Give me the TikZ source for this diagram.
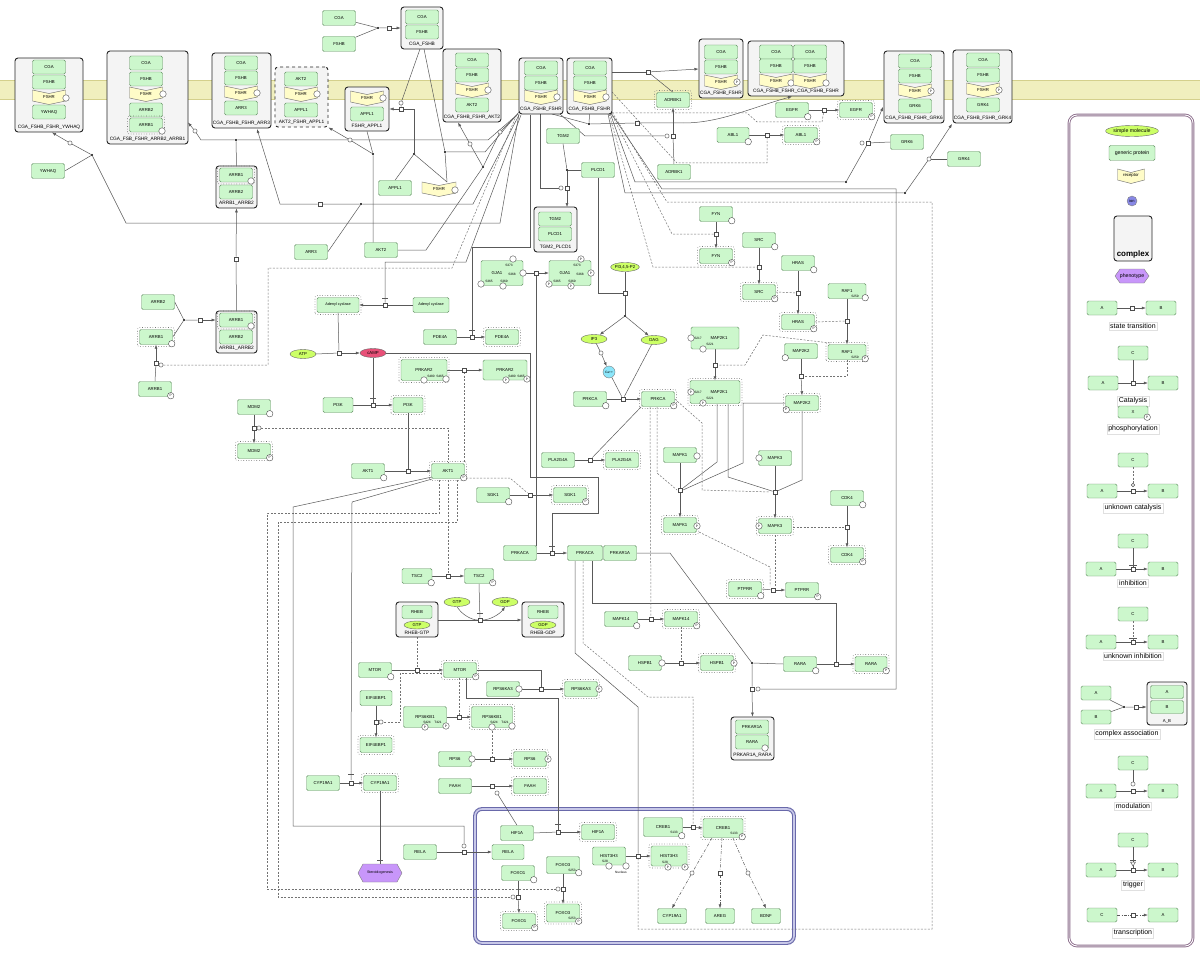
\documentclass[tikz,border=0pt]{standalone}
\usepackage{fontspec}
\setmainfont{Liberation Sans}
\usetikzlibrary{arrows.meta,shapes.geometric,fit,calc}
\pgfdeclarelayer{back}
\pgfdeclarelayer{bg}
\pgfsetlayers{back,bg,main}
\definecolor{pg}{RGB}{204,247,204}
\definecolor{pb}{RGB}{96,140,96}
\definecolor{rcol}{RGB}{255,252,200}
\definecolor{memb}{RGB}{240,239,190}
\definecolor{membd}{RGB}{212,208,140}
\definecolor{cg}{RGB}{244,244,244}
\definecolor{smc}{RGB}{204,255,102}
\definecolor{camp}{RGB}{232,80,120}
\definecolor{ionc}{RGB}{140,230,250}
\definecolor{ionl}{RGB}{136,136,230}
\definecolor{phen}{RGB}{200,150,250}
\definecolor{nuc}{RGB}{105,105,170}
\definecolor{nucl}{RGB}{200,200,232}
\definecolor{legc}{RGB}{140,110,140}
\newcommand{\Fs}{\fontsize{4.3}{5}\selectfont}
\newcommand{\Fc}{\fontsize{4.8}{5.5}\selectfont}
\newcommand{\Fss}{\fontsize{3.2}{3.6}\selectfont}
\newcommand{\Fl}{\fontsize{7}{8}\selectfont}
\tikzset{
 prot/.style={draw=pb, fill=pg, rounded corners=1.5pt, minimum width=33pt, minimum height=15pt, inner sep=0pt, font=\Fs, line width=0.45pt},
 cp/.style={minimum height=14pt},
 lp/.style={minimum width=30pt, minimum height=14pt},
 actb/.style={draw=black!55, dotted, line width=0.6pt, rounded corners=2pt},
 cplx/.style={draw=black!85, fill=cg, rounded corners=3pt, line width=0.9pt, inner sep=0pt},
 smol/.style={ellipse, draw=black!60, fill=smc, minimum width=26pt, minimum height=9pt, inner sep=0pt, font=\Fs, line width=0.4pt},
 sqn/.style={draw=black!70, fill=white, minimum size=4.5pt, inner sep=0pt, line width=0.4pt},
 dotn/.style={circle, fill=black, minimum size=2.4pt, inner sep=0pt},
 ocn/.style={circle, draw=black!70, fill=white, minimum size=4.2pt, inner sep=0pt, line width=0.4pt},
 modn/.style={circle, draw=black!70, fill=white, minimum size=6.5pt, inner sep=0pt, font=\Fss, line width=0.4pt},
 ln/.style={draw=black!65, line width=0.5pt},
 dl/.style={draw=black!55, line width=0.5pt, dash pattern=on 2pt off 1.5pt},
 ddl/.style={draw=black!65, line width=0.5pt, dash pattern=on 3pt off 1.5pt on 0.6pt off 1.5pt},
 ar/.style={-{Latex[length=4pt,width=3pt]}},
 lab/.style={font=\Fs, inner sep=0pt},
 clab/.style={font=\Fc, inner sep=0pt},
 leglab/.style={font=\Fl, draw=black!12, fill=white, inner sep=1.5pt},
}
\newcommand{\Gp}[4][]{\node[prot,#1] (#2) at (#3) {#4};}
\newcommand{\Gpa}[4][]{\node[prot,#1] (#2) at (#3) {#4};\draw[actb] ([xshift=-1.8pt,yshift=-1.8pt]#2.south west) rectangle ([xshift=1.8pt,yshift=1.8pt]#2.north east);}
\newcommand{\Rc}[5][33]{\path[draw=black!55,fill=rcol,line width=0.45pt] ({#3-#1/2},{#4-7}) -- (#3,{#4-3.5}) -- ({#3+#1/2},{#4-7}) -- ({#3+#1/2},{#4+4}) -- (#3,{#4+7.5}) -- ({#3-#1/2},{#4+4}) -- cycle; \node[lab,minimum width=#1pt,minimum height=14pt] (#2) at (#3,#4) {#5};}
\newcommand{\Cx}[7][]{\node[cplx,fit={(#3,#4) (#5,#6)},#1] (#2) {}; \node[clab] at ({(#3+#5)/2},{#6-4.5}) {#7};}
\newcommand{\Mr}[2]{\node[modn] at ($(#1.south east)+(-1,-1)$) {#2};}
\newcommand{\Ml}[2]{\node[modn] at ($(#1.south west)+(1,-1)$) {#2};}
\newcommand{\Mat}[2]{\node[modn] at (#1) {#2};}
\newcommand{\Trg}[2]{\draw[ln] ({#1-3},#2) -- ({#1+3},#2);}
\begin{document}
\begin{tikzpicture}[x=1pt,y=-1pt]
\useasboundingbox (0,0) rectangle (1200,955);
\begin{pgfonlayer}{back}
\fill[white] (0,0) rectangle (1200,955);
\fill[memb] (0,80) rectangle (1200,99);
\draw[membd, line width=0.6pt] (0,80) -- (1200,80) (0,99) -- (1200,99);
\draw[draw=nuc, double=nucl, double distance=1.6pt, line width=1.1pt, rounded corners=7pt] (475,809) rectangle (794,943);
\end{pgfonlayer}

% ---------- complexes ----------
\Cx{cYW}{15}{58}{83}{132}{CGA\_FSHB\_FSHR\_YWHAQ}
\Gp[cp]{c1a}{49,67}{CGA} \Gp[cp]{c1b}{49,82}{FSHB} \Rc{c1c}{49}{97}{FSHR} \Mat{66,98}{} \Gp[cp]{c1d}{49,112}{YWHAQ}

\Cx{cAR}{107}{51}{188}{144}{CGA\_FSB\_FSHR\_ARRB2\_ARRB1}
\Gp[cp]{c2a}{146,63}{CGA} \Gp[cp]{c2b}{146,79}{FSHB} \Rc{c2c}{146}{94}{FSHR} \Mat{163,94}{} \Gp[cp]{c2d}{146,110}{ARRB2} \Gpa[cp]{c2e}{146,125}{ARRB1} \Mat{162,131}{}

\Cx{cA3}{212}{53}{271}{128}{CGA\_FSHB\_FSHR\_ARR3}
\Gp[cp]{c3a}{241,63}{CGA} \Gp[cp]{c3b}{241,78}{FSHB} \Rc{c3c}{241}{93}{FSHR} \Mat{257,93}{} \Gp[cp]{c3d}{241,108}{ARR3}

\Cx[dashed]{cAA}{275}{67}{328}{127}{AKT2\_FSHR\_APPL1}
\Gp[cp]{c4a}{301,79}{AKT2} \Rc{c4c}{301}{94}{FSHR} \Mat{317,94}{} \Gp[cp]{c4d}{301,110}{APPL1}

\Cx{cFA}{345}{87}{389}{131}{FSHR\_APPL1}
\Rc{c5c}{367}{98}{FSHR} \Mat{383,98}{} \Gp[cp]{c5d}{367,114}{APPL1}

\Cx{cCF}{401}{7}{443}{49}{CGA\_FSHB}
\Gp[cp]{c6a}{422,17}{CGA} \Gp[cp]{c6b}{422,32}{FSHB}

\Cx{cAK}{443}{49}{501}{122}{CGA\_FSHB\_FSHR\_AKT2}
\Gp[cp]{c7a}{472,60}{CGA} \Gp[cp]{c7b}{472,75}{FSHB} \Rc{c7c}{472}{90}{FSHR} \Mat{488,90}{} \Gp[cp]{c7d}{472,105}{AKT2}

\Cx{cF1}{519}{58}{563}{114}{CGA\_FSHB\_FSHR}
\Gp[cp]{c8a}{541,68}{CGA} \Gp[cp]{c8b}{541,83}{FSHB} \Rc{c8c}{541}{97}{FSHR} \Mat{557,97}{}

\Cx{cF2}{567}{58}{612}{114}{CGA\_FSHB\_FSHR}
\Gp[cp]{c9a}{590,68}{CGA} \Gp[cp]{c9b}{590,83}{FSHB} \Rc{c9c}{590}{97}{FSHR} \Mat{606,97}{}

\Cx{cF3}{699}{39}{743}{98}{CGA\_FSHB\_FSHR}
\Gp[cp]{c10a}{721,52}{CGA} \Gp[cp]{c10b}{721,67}{FSHB} \Rc{c10c}{721}{82}{FSHR} \Mat{737,82}{P}

\Cx{cDim}{748}{41}{844}{96}{CGA\_FSHB\_FSHR\_CGA\_FSHB\_FSHR}
\Gp[cp]{c11a}{776,52}{CGA} \Gp[cp]{c11b}{776,66}{FSHB} \Rc{c11c}{776}{81}{FSHR} \Mat{791,83}{}
\Gp[cp]{c11d}{810,52}{CGA} \Gp[cp]{c11e}{810,66}{FSHB} \Rc{c11f}{810}{81}{FSHR} \Mat{826,83}{}

\Cx{cG6}{884}{51}{944}{123}{CGA\_FSHB\_FSHR\_GRK6}
\Gp[cp]{c12a}{915,61}{CGA} \Gp[cp]{c12b}{915,76}{FSHB} \Rc{c12c}{915}{91}{FSHR} \Mat{931,91}{P} \Gp[cp]{c12d}{915,106}{GRK6}

\Cx{cG4}{953}{50}{1012}{123}{CGA\_FSHB\_FSHR\_GRK4}
\Gp[cp]{c13a}{983,60}{CGA} \Gp[cp]{c13b}{983,75}{FSHB} \Rc{c13c}{983}{90}{FSHR} \Mat{999,90}{P} \Gp[cp]{c13d}{983,105}{GRK4}

\Cx{cAB1}{216}{166}{257}{208}{ARRB1\_ARRB2}
\Gpa[cp]{c14a}{236,175}{ARRB1} \Mat{251,181}{} \Gp[cp]{c14b}{236,192}{ARRB2}

\Cx{cAB2}{216}{311}{257}{353}{ARRB1\_ARRB2}
\Gpa[cp]{c15a}{236,320}{ARRB1} \Mat{251,326}{} \Gp[cp]{c15b}{236,337}{ARRB2}

\Cx{cTP}{534}{207}{577}{252}{TGM2\_PLCD1}
\Gp[cp]{c16a}{555,219}{TGM2} \Gp[cp]{c16b}{555,234}{PLCD1}

\Cx{cRG}{396}{602}{438}{637}{RHEB-GTP}
\Gp[minimum width=30pt,minimum height=13pt]{c17a}{417,612}{RHEB} \node[smol,minimum height=8pt] at (417,625) {GTP};

\Cx{cRD}{522}{602}{564}{637}{RHEB-GDP}
\Gp[minimum width=30pt,minimum height=13pt]{c18a}{543,612}{RHEB} \node[smol,minimum height=8pt] at (543,625) {GDP};

\Cx{cPR}{731}{717}{774}{760}{PRKAR1A\_RARA}
\Gp[cp]{c19a}{752,727}{PRKAR1A} \Gp[cp]{c19b}{752,742}{RARA} \Mat{765,748}{}

% ---------- free nodes ----------
\Gp{CGA0}{339,18}{CGA} \Gp{FSHB0}{339,44}{FSHB}
\Gp{YWHAQ}{48,171}{YWHAQ}
\Gp{ARR3}{311,252}{ARR3}
\Gp{AKT2}{381,250}{AKT2}
\Gp{APPL1}{395,188}{APPL1}
\Rc[34]{FSHRf}{439}{189}{FSHR} \Mat{455,190}{}
\Gp{TGM2}{563,136}{TGM2}
\Gp{PLCD1}{598,170}{PLCD1}
\Gp[minimum width=42pt,minimum height=25pt]{GJA1a}{502,273}{}
\node[lab] at (497,273) {GJA1}; \node[font=\Fss] at (512,274) {S368}; \node[font=\Fss] at (509,265) {S373}; \node[font=\Fss] at (489,281) {S365}; \node[font=\Fss] at (504,281) {S369};
\Mat{513,259}{} \Mat{523,273}{} \Mat{481,284}{} \Mat{503,286}{}
\Gp[minimum width=42pt,minimum height=25pt]{GJA1b}{570,273}{}
\node[lab] at (565,273) {GJA1}; \node[font=\Fss] at (580,274) {S368}; \node[font=\Fss] at (577,265) {S373}; \node[font=\Fss] at (557,281) {S365}; \node[font=\Fss] at (572,281) {S369};
\Mat{581,259}{P} \Mat{591,273}{P} \Mat{549,284}{P} \Mat{571,286}{P}
\Gpa[minimum width=42pt,font=\fontsize{3.8}{4}\selectfont]{AC1}{338,305}{Adenyl cyclase}
\Gp[minimum width=36pt,font=\fontsize{3.8}{4}\selectfont]{AC2}{431,305}{Adenyl cyclase}
\Gpa{ADRBK1t}{673,100}{ADRBK1} \Gp{ADRBK1b}{674,172}{ADRBK1}
\Gp{EGFR}{792,110}{EGFR} \Mr{EGFR}{} \Gpa{EGFRp}{856,110}{EGFR} \Mr{EGFRp}{P}
\Gp[minimum width=32pt]{ABL1}{733,135}{ABL1} \Mr{ABL1}{} \Gpa{ABL1p}{801,135}{ABL1} \Mr{ABL1p}{P}
\Gp{GRK6}{907,142}{GRK6} \Gp{GRK4}{964,159}{GRK4}
\Gp{FYN}{716,214}{FYN} \Mr{FYN}{} \Gpa{FYNp}{716,256}{FYN} \Mr{FYNp}{P}
\Gp{SRC}{759,240}{SRC} \Mr{SRC}{} \Gpa{SRCp}{759,292}{SRC} \Mr{SRCp}{P}
\Gp{HRAS}{798,263}{HRAS} \Mr{HRAS}{} \Gpa{HRASp}{798,322}{HRAS} \Mr{HRASp}{P}
\Gp[minimum width=38pt]{RAF1}{847,291}{RAF1} \Mr{RAF1}{} \node[font=\Fss] at (855,296) {S259};
\Gpa[minimum width=38pt]{RAF1p}{847,352}{RAF1} \Mr{RAF1p}{P} \node[font=\Fss] at (855,357) {S259};
\Gp{MAP2K2}{801,351}{MAP2K2} \Ml{MAP2K2}{} \Gpa{MAP2K2p}{802,403}{MAP2K2} \Ml{MAP2K2p}{P}
\Gp[minimum width=48pt,minimum height=22pt]{MAP2K1}{715,338}{\hspace{8pt}MAP2K1} \Mat{691,338}{} \Mat{703,349}{}
\node[font=\Fss] at (698,338) {S217}; \node[font=\Fss] at (710,344) {S221};
\Gpa[minimum width=50pt,minimum height=23pt]{MAP2K1p}{715,392}{\hspace{8pt}MAP2K1} \Mat{691,392}{P} \Mat{703,403}{P}
\node[font=\Fss] at (698,392) {S217}; \node[font=\Fss] at (710,398) {S221};
\node[smol,minimum width=27pt] (PIP2) at (625,267) {PI3,4,5-P2};
\node[smol] (IP3) at (594,339) {IP3};
\node[smol] (DAG) at (654,340) {DAG};
\node[circle, fill=ionc, draw=black!50, minimum size=12pt, inner sep=0pt, font=\Fss] (Ca) at (609,372) {Ca++};
\Gp{PRKCA}{590,399}{PRKCA} \Mr{PRKCA}{} \Gpa{PRKCAp}{658,399}{PRKCA} \Mr{PRKCAp}{P}
\Gp{PLA2G4A}{558,460}{PLA2G4A} \Gpa{PLA2G4Ap}{622,460}{PLA2G4A}
\Gp{MAPK1}{680,455}{MAPK1} \Mat{697,456}{} \Gpa{MAPK1p}{680,525}{MAPK1} \Mat{697,526}{P}
\Gp{MAPK3}{775,458}{MAPK3} \Mat{759,458}{} \Gpa{MAPK3p}{775,526}{MAPK3} \Mat{759,526}{P}
\Gp{CDK4}{847,498}{CDK4} \Mr{CDK4}{} \Gpa{CDK4p}{847,555}{CDK4} \Mr{CDK4p}{P}
\Gpa{PTPRR}{745,589}{PTPRR} \Mr{PTPRR}{} \Gp{PTPRRp}{802,590}{PTPRR} \Mr{PTPRRp}{P}
\Gp{PRKAR1A}{620,553}{PRKAR1A}
\Gp{MAPK14}{621,619}{MAPK14} \Mr{MAPK14}{} \Gpa{MAPK14p}{681,619}{MAPK14} \Mr{MAPK14p}{P}
\Gp{ARRB2}{158,302}{ARRB2}
\Gpa{ARRB1d}{156,337}{ARRB1} \Mr{ARRB1d}{}
\Gp{ARRB1p}{155,389}{ARRB1} \Mr{ARRB1p}{P}
\node[smol] (ATP) at (303,354) {ATP};
\node[smol, fill=camp] (cAMP) at (373,353) {cAMP};
\Gp{MDM2}{254,407}{MDM2} \Mr{MDM2}{} \Gpa{MDM2p}{254,451}{MDM2} \Mr{MDM2p}{P}
\Gp{PDE4A}{440,337}{PDE4A} \Gpa{PDE4Ap}{502,337}{PDE4A}
\Gpa[minimum width=46pt,minimum height=21pt]{PRKAR2a}{424,370}{PRKAR2} \Mat{424,380}{} \Mat{446,379}{}
\node[font=\Fss] at (431,376) {S480}; \node[font=\Fss] at (440,376) {S465};
\Gp[minimum width=44pt,minimum height=20pt]{PRKAR2b}{505,370}{PRKAR2} \Mat{506,380}{P} \Mat{527,379}{P}
\node[font=\Fss] at (512,376) {S480}; \node[font=\Fss] at (521,376) {S465};
\Gp[minimum width=30pt]{PI3K}{338,405}{PI3K} \Gpa[minimum width=30pt]{PI3Kp}{408,405}{PI3K}
\Gp{AKT1}{368,471}{AKT1} \Mr{AKT1}{} \Gpa{AKT1p}{448,471}{AKT1} \Mr{AKT1p}{P}
\Gp{SGK1}{493,495}{SGK1} \Mr{SGK1}{} \Gpa{SGK1p}{570,495}{SGK1} \Mr{SGK1p}{P}
\Gp{PRKACA}{520,553}{PRKACA} \Gp[minimum width=35pt]{PRKACAp}{585,553}{PRKACA}
\Gp[minimum width=30pt]{TSC2}{417,576}{TSC2} \Mr{TSC2}{} \Gp[minimum width=29pt]{TSC2p}{479,576}{TSC2} \Mr{TSC2p}{P}
\node[smol] (GTP) at (457,602) {GTP};
\node[smol] (GDP) at (505,602) {GDP};
\Gp{MTOR}{375,670}{MTOR} \Mr{MTOR}{} \Gpa{MTORp}{460,670}{MTOR} \Mr{MTORp}{P}
\Gp{RPS6KA3}{503,689}{RPS6KA3} \Mat{519,689}{} \Gpa{RPS6KA3p}{581,689}{RPS6KA3} \Mat{599,689}{P}
\Gp[minimum width=32pt]{EIF}{376,698}{EIF4EBP1} \Gpa[minimum width=32pt]{EIFp}{376,745}{EIF4EBP1}
\Gp[minimum width=43pt,minimum height=21pt]{RPS6KB1}{425,717}{RPS6KB1} \Mat{425,727}{P} \Mat{446,726}{P}
\node[font=\Fss] at (427,722) {S424}; \node[font=\Fss] at (438,722) {T421};
\Gpa[minimum width=41pt,minimum height=21pt]{RPS6KB1p}{492,717}{RPS6KB1} \Mat{492,727}{} \Mat{512,726}{}
\node[font=\Fss] at (494,722) {S424}; \node[font=\Fss] at (505,722) {T421};
\Gp{RPS6}{455,759}{RPS6} \Mat{472,759}{} \Gpa{RPS6p}{530,759}{RPS6} \Mat{548,759}{P}
\Gp{FAAH}{455,786}{FAAH} \Gpa{FAAHp}{530,786}{FAAH}
\Gp{CYP19A1}{323,783}{CYP19A1} \Gpa{CYP19A1p}{380,783}{CYP19A1}
\path[draw=black!50, fill=phen, line width=0.4pt] (358,873) -- (363,864) -- (397,864) -- (402,873) -- (397,882) -- (363,882) -- cycle;
\node[lab, font=\fontsize{3.6}{4}\selectfont, minimum width=44pt, minimum height=18pt] (Steroid) at (380,873) {Steroidogenesis};
\Gp{HIF1A}{517,833}{HIF1A} \Gpa{HIF1Ap}{598,832}{HIF1A}
\Gp{RELA}{420,852}{RELA} \Gp[minimum width=32pt]{RELAn}{508,852}{RELA}
\Gp{FOXO1}{518,873}{FOXO1} \Mr{FOXO1}{} \Gpa{FOXO1p}{519,921}{FOXO1} \Mr{FOXO1p}{P}
\Gp[minimum height=17pt]{FOXO3}{563,865}{FOXO3} \Mr{FOXO3}{} \node[font=\Fss] at (572,870) {S253};
\Gpa[minimum height=18pt]{FOXO3p}{563,913}{FOXO3} \Mr{FOXO3p}{P} \node[font=\Fss] at (572,918) {S253};
\Gp[minimum height=18pt]{HIST3H3}{609,856}{HIST3H3} \Mat{609,866}{} \Mat{626,866}{} \node[font=\Fss] at (605,861) {S28}; \node[font=\Fss] at (621,872) {Nucleus};
\Gpa[minimum width=36pt,minimum height=20pt]{HIST3H3p}{669,856}{HIST3H3} \Mat{668,867}{P} \Mat{685,867}{P} \node[font=\Fss] at (665,862) {S28};
\Gp[minimum width=39pt,minimum height=19pt]{CREB1}{663,827}{CREB1} \Mr{CREB1}{} \node[font=\Fss] at (674,832) {S133};
\Gpa[minimum width=40pt,minimum height=19pt]{CREB1p}{723,828}{CREB1} \Mr{CREB1p}{P} \node[font=\Fss] at (734,833) {S133};
\Gp[minimum width=29pt]{CYPn}{672,916}{CYP19A1} \Gp[minimum width=29pt]{AREG}{720,916}{AREG} \Gp[minimum width=29pt]{BDNF}{766,916}{BDNF}
\Gp{HSPB1}{645,663}{HSPB1} \Mat{662,663}{} \Gpa{HSPB1p}{717,663}{HSPB1} \Mat{734,663}{P}
\Gp{RARA}{800,664}{RARA} \Mr{RARA}{} \Gpa[minimum width=32pt]{RARAp}{871,664}{RARA} \Mr{RARAp}{P}

% ---------- process nodes ----------
\node[dotn] (d1) at (378,28) {}; \node[sqn] (s1) at (389,28) {};
\node[dotn] (d2) at (92,155) {}; \node[ocn] (o2) at (70,143) {};
\node[dotn] (d3) at (236,140) {}; \node[ocn] (o3) at (195,131) {};
\node[dotn] (d4) at (361,204) {}; \node[sqn] (s4) at (320,204) {};
\node[dotn] (d5) at (414,154) {}; \node[sqn] (s5) at (401,109) {}; \node[ocn] (o5) at (401,103) {};
\node[dotn] (d6) at (445,152) {};
\node[dotn] (d7) at (373,154) {}; \node[ocn] (o7) at (350,140) {};
\node[dotn] (d8) at (483,167) {}; \node[ocn] (o8) at (470,144) {}; \node[ocn] (o8b) at (500,132) {};
\node[dotn] (d9) at (567,170) {}; \node[sqn] (s9) at (567,188) {}; \node[ocn] (o9) at (561,188) {};
\node[sqn] (s10) at (625,293) {}; \node[dotn] (d10) at (625,316) {};
\node[ocn] (o11) at (601,353) {};
\node[sqn] (s12) at (623,399) {};
\node[sqn] (s13) at (590,460) {};
\node[sqn] (s14) at (536,273) {};
\node[sqn] (s15) at (385,305) {};
\node[sqn] (s16) at (472,337) {};
\node[sqn] (s17) at (339,353) {};
\node[sqn] (s18) at (373,405) {};
\node[sqn] (s19) at (552,553) {};
\node[sqn] (s20) at (464,370) {};
\node[sqn] (s21) at (408,471) {};
\node[sqn] (s22) at (530,495) {};
\node[sqn] (s23) at (448,576) {};
\node[sqn] (s24) at (254,428) {}; \node[ocn] (o24) at (259,428) {};
\node[sqn] (s25) at (563,889) {}; \node[ocn] (o25) at (558,889) {};
\node[sqn] (s26) at (518,897) {}; \node[ocn] (o26) at (513,897) {};
\node[sqn] (s27) at (464,852) {}; \node[ocn] (o27) at (464,846) {};
\node[sqn] (s28) at (351,783) {};
\node[sqn] (s29) at (480,620) {};
\node[sqn] (s30) at (417,670) {};
\node[sqn] (s31) at (541,689) {};
\node[sqn] (s32) at (459,717) {};
\node[sqn] (s33) at (376,722) {}; \node[ocn] (o33) at (381,722) {};
\node[sqn] (s34) at (558,832) {};
\node[sqn] (s35) at (492,759) {};
\node[sqn] (s36) at (492,786) {}; \node[ocn] (o36) at (497,793) {};
\node[sqn] (s37) at (638,856) {};
\node[sqn] (s38) at (693,827) {};
\node[ocn] (o38a) at (692,873) {}; \node[sqn] (s38b) at (720,873) {}; \node[ocn] (o38c) at (748,873) {};
\node[sqn] (s39) at (836,664) {};
\node[dotn] (d40) at (752,663) {}; \node[sqn] (s40) at (752,689) {}; \node[ocn] (o40) at (758,689) {};
\node[sqn] (s41) at (651,619) {};
\node[sqn] (s42) at (681,663) {};
\node[sqn] (s43) at (680,490) {};
\node[sqn] (s44) at (775,492) {};
\node[sqn] (s45) at (847,527) {};
\node[sqn] (s46) at (773,590) {};
\node[sqn] (s47) at (715,365) {};
\node[sqn] (s48) at (801,376) {};
\node[sqn] (s49) at (847,321) {};
\node[sqn] (s50) at (798,293) {};
\node[sqn] (s51) at (759,267) {};
\node[sqn] (s52) at (716,234) {};
\node[sqn] (s53) at (767,135) {};
\node[sqn] (s54) at (673,136) {}; \node[ocn] (o54) at (667,136) {};
\node[sqn] (s55) at (824,110) {};
\node[dotn] (d56) at (589,124) {}; \node[sqn] (s56) at (637,123) {};
\node[sqn] (s57) at (648,72) {};
\node[dotn] (d58) at (846,182) {}; \node[ocn] (o58) at (862,143) {}; \node[sqn] (s58) at (868,143) {};
\node[dotn] (d59) at (905,193) {}; \node[ocn] (o59) at (929,159) {};
\node[dotn] (d62) at (184,320) {}; \node[sqn] (s62) at (200,320) {};
\node[sqn] (s63) at (236,259) {};
\node[sqn] (s65) at (156,363) {}; \node[ocn] (o65) at (161,365) {};

% ---------- connectors ----------
\begin{pgfonlayer}{bg}
\draw[ln] (CGA0) -- (d1) (FSHB0) -- (d1) (d1) -- (s1); \draw[ln,ar] (s1) -- (cCF.west |- s1);
\draw[ln] (YWHAQ.east) -- (d2) -- (o2); \draw[ln,ar] (o2) -- (52,132.5);
\draw[ln] (d2) -- (126,223) -- (500,223) -- (519,114);
\draw[ln] (cAB1.north) -- (d3) -- (201,140) -- (o3); \draw[ln,ar] (o3) -- (188,122.5);
\draw[ln] (d3) -- (488,140) -- (518,114);
\draw[ln] (ARR3.east) -- (d4) -- (s4) -- (280,204); \draw[ln,ar] (280,204) -- (257,129);
\draw[ln] (d4) -- (473,204) -- (519,115);
\draw[ln] (APPL1.north) -- (d5); \draw[ln] (447,182) -- (d5); \draw[ln] (d5) -- (414,109) -- (s5); \draw[ln,ar] (s5) -- (389.5,109); \draw[ln] (420,49) -- (o5) -- (s5);
\draw[ln] (424,49) -- (d6) -- (447,182); \draw[ln] (d6) -- (485,152) -- (519,112);
\draw[ln] (cFA.south) -- (d7) -- (373,242.5); \draw[ln] (d7) -- (o7); \draw[ln,ar] (o7) -- (328.5,127.5);
\draw[ln] (AKT2.east) -- (426,250) -- (d8) -- (o8); \draw[ln,ar] (o8) -- (458,122.5); \draw[ln] (d8) -- (o8b) -- (517,115);
\draw[ln] (TGM2.south) -- (d9); \draw[ln] (PLCD1.west) -- (d9) -- (s9); \draw[ln,ar] (s9) -- (567,207); \draw[ln] (540,114) -- (540,188) -- (o9);
\draw[ln] (PLCD1.south) -- (598,293) -- (s10); \draw[ln] (PIP2) -- (s10) -- (d10); \draw[ln,ar] (d10) -- (IP3); \draw[ln,ar] (d10) -- (DAG);
\draw[ln] (IP3) -- (o11); \draw[ln,ar] (o11) -- (Ca);
\draw[ln] (PRKCA.east) -- (s12); \draw[ln,ar] (s12) -- (PRKCAp.west); \draw[ln] (Ca) -- (s12); \draw[ln] (DAG) -- (s12);
\draw[ln] (PLA2G4A.east) -- (s13); \draw[ln,ar] (s13) -- (PLA2G4Ap.west); \draw[ln] (PRKCAp.south west) -- (s13);
\draw[ln] (GJA1a.east) -- (s14); \draw[ln,ar] (s14) -- (GJA1b.west); \draw[ln] (s14) -- (536,545.5);
\draw[ln] (AC2.west) -- (s15); \draw[ln,ar] (s15) -- (AC1.east); \draw[ln] (521,115) -- (466,262) -- (385,262) -- (s15); \Trg{385}{298}
\draw[ln] (PDE4A.east) -- (s16); \draw[ln,ar] (s16) -- (PDE4Ap.west); \draw[ln] (530,115) -- (530,247) -- (472,247) -- (s16); \Trg{472}{330}
\draw[ln] (ATP.east) -- (s17); \draw[ln,ar] (s17) -- (cAMP.west); \draw[ln] (AC1.south) -- (s17);
\draw[ln] (PI3K.east) -- (s18); \draw[ln,ar] (s18) -- (PI3Kp.west); \draw[ln] (cAMP.south) -- (s18); \Trg{373}{398}
\draw[ln] (PRKACA.east) -- (s19); \draw[ln,ar] (s19) -- (PRKACAp.west); \draw[ln] (cAMP.east) -- (530,353) -- (530,477) -- (598,477) -- (598,513) -- (552,513) -- (s19); \Trg{552}{546}
\draw[ln] (PRKAR2a.east) -- (s20); \draw[ln,ar] (s20) -- (PRKAR2b.west); \draw[dl] (s20) -- (464,463);
\draw[ln] (AKT1.east) -- (s21); \draw[ln,ar] (s21) -- (AKT1p.west); \draw[ln] (PI3Kp.south) -- (s21);
\draw[ln] (SGK1.east) -- (s22); \draw[ln,ar] (s22) -- (SGK1p.west); \draw[dl] (466,478) -- (510,478) -- (s22);
\draw[ln] (TSC2.east) -- (s23); \draw[ln,ar] (s23) -- (TSC2p.west); \draw[dl] (448,480) -- (s23);
\draw[ln] (MDM2.south) -- (s24); \draw[ln,ar] (s24) -- (MDM2p.north); \draw[dl] (o24) -- (448,428) -- (448,462);
\draw[ln] (FOXO3.south) -- (s25); \draw[ln,ar] (s25) -- (FOXO3p.north); \draw[dl] (439,480) -- (439,513) -- (267,513) -- (267,889) -- (o25);
\draw[ln] (FOXO1.south) -- (s26); \draw[ln,ar] (s26) -- (FOXO1p.north); \draw[dl] (457,480) -- (457,522) -- (278,522) -- (278,897) -- (o26);
\draw[ln] (RELA.east) -- (s27); \draw[ln,ar] (s27) -- (RELAn.west); \draw[ln] (432,477) -- (293,507) -- (293,826) -- (464,826) -- (o27);
\draw[ln] (CYP19A1.east) -- (s28); \draw[ln,ar] (s28) -- (CYP19A1p.west); \draw[ln] (432,479) -- (352,502) -- (351,780); \Trg{351}{774}
\draw[ln] (CYP19A1p.south) -- (Steroid.north); \Trg{380}{860}
\draw[ln] (cRG.east |- s29) -- (s29); \draw[ln,ar] (s29) -- (cRD.west |- s29); \draw[ln] (TSC2p.south) -- (s29); \Trg{480}{613}
\draw[ln] (GTP.south) .. controls (462,615) and (472,620) .. (s29); \draw[ln,ar] (s29) .. controls (490,620) and (500,614) .. (GDP.south);
\draw[ln] (MTOR.east) -- (s30); \draw[ln,ar] (s30) -- (MTORp.west); \draw[dl] (cRG.south) -- (s30);
\draw[ln] (RPS6KA3.east) -- (s31); \draw[ln,ar] (s31) -- (RPS6KA3p.west); \draw[ln] (MTORp.east) -- (541,670) -- (s31);
\draw[ln] (RPS6KB1.east) -- (s32); \draw[ln,ar] (s32) -- (RPS6KB1p.west); \draw[dl] (459,678) -- (s32);
\draw[ln] (EIF.south) -- (s33); \draw[ln,ar] (s33) -- (EIFp.north); \draw[dl] (442,673) -- (400,673) -- (400,722) -- (o33);
\draw[ln] (HIF1A.east) -- (s34); \draw[ln,ar] (s34) -- (HIF1Ap.west); \draw[ln] (466,678) -- (466,698) -- (558,698) -- (s34); \Trg{558}{824}
\draw[ln] (RPS6.east) -- (s35); \draw[ln,ar] (s35) -- (RPS6p.west); \draw[dl] (RPS6KB1p.south) -- (s35);
\draw[ln] (FAAH.east) -- (s36); \draw[ln,ar] (s36) -- (FAAHp.west); \draw[ln] (HIF1A.north) -- (o36);
\draw[ln] (HIST3H3.east) -- (s37); \draw[ln,ar] (s37) -- (HIST3H3p.west); \draw[ln] (575,561) -- (575,653) -- (638,707) -- (s37);
\draw[dl] (s37) -- (638,929) -- (932,929) -- (932,202) -- (667,202) -- (612,112);
\draw[ln] (CREB1.east) -- (s38); \draw[ln,ar] (s38) -- (CREB1p.west); \draw[dl] (583,561) -- (583,643) -- (648,697) -- (693,697) -- (s38);
\draw[ddl] (712,838) -- (o38a); \draw[ddl,ar] (o38a) -- (CYPn.north);
\draw[ddl] (722,838) -- (s38b); \draw[ddl,ar] (s38b) -- (AREG.north);
\draw[ddl] (733,838) -- (o38c); \draw[ddl,ar] (o38c) -- (BDNF.north);
\draw[ln] (RARA.east) -- (s39); \draw[ln,ar] (s39) -- (RARAp.west); \draw[ln] (592,561) -- (592,603) -- (836,603) -- (s39);
\draw[ln] (PRKAR1A.east) -- (670,553) -- (d40); \draw[ln] (RARA.west) -- (d40) -- (s40); \draw[ln,ar] (s40) -- (cPR.north);
\draw[ln] (o40) -- (896,689) -- (896,189) -- (662,189) -- (611,113);
\draw[ln] (MAPK14.east) -- (s41); \draw[ln,ar] (s41) -- (MAPK14p.west); \draw[dl] (650,407) -- (s41);
\draw[ln] (HSPB1.east) -- (s42); \draw[ln,ar] (s42) -- (HSPB1p.west); \draw[dl] (MAPK14p.south) -- (s42);
\draw[ln] (MAPK1.south) -- (s43); \draw[ln,ar] (s43) -- (MAPK1p.north); \draw[dl] (657,407) -- (657,473) -- (677,490);
\draw[ln] (717,404) -- (717,462) -- (683,488); \draw[ln] (MAP2K2p.west) -- (743,403) -- (743,463) -- (683,490);
\draw[ln] (MAPK3.south) -- (s44); \draw[ln,ar] (s44) -- (MAPK3p.north); \draw[ln] (728,404) -- (728,477) -- (s44); \draw[ln] (802,411) -- (802,480) -- (s44);
\draw[dl] (PRKCAp.east) -- (702,423) -- (702,490) -- (770,492);
\draw[ln] (CDK4.south) -- (s45); \draw[ln,ar] (s45) -- (CDK4p.north); \draw[dl] (793,527) -- (s45);
\draw[ln] (PTPRR.east) -- (s46); \draw[ln,ar] (s46) -- (PTPRRp.west); \draw[dl] (699,532) -- (770,567) -- (770,586); \draw[dl] (775,535) -- (775,586);
\draw[ln] (MAP2K1.south) -- (s47); \draw[ln,ar] (s47) -- (MAP2K1p.north); \draw[dl] (830,343) -- (763,335) -- (745,365) -- (s47);
\draw[ln] (MAP2K2.south) -- (s48); \draw[ln,ar] (s48) -- (MAP2K2p.north); \draw[dl] (RAF1p.south) -- (847,376) -- (s48);
\draw[ln] (RAF1.south) -- (s49); \draw[ln,ar] (s49) -- (RAF1p.north); \draw[dl] (HRASp.east) -- (s49);
\draw[ln] (HRAS.south) -- (s50); \draw[ln,ar] (s50) -- (HRASp.north); \draw[dl] (SRCp.east) -- (s50);
\draw[ln] (SRC.south) -- (s51); \draw[ln,ar] (s51) -- (SRCp.north); \draw[dl] (609,114) -- (653,267) -- (s51);
\draw[ln] (FYN.south) -- (s52); \draw[ln,ar] (s52) -- (FYNp.north); \draw[dl] (611,113) -- (672,234) -- (s52);
\draw[ln] (ABL1.east) -- (s53); \draw[ln,ar] (s53) -- (ABL1p.west); \draw[dl] (612,92) -- (677,163) -- (767,163) -- (s53);
\draw[ln] (ADRBK1b.north) -- (s54); \draw[ln,ar] (s54) -- (ADRBK1t.south); \draw[ln] (560,114) -- (585,136) -- (o54);
\draw[ln] (EGFR.east) -- (s55); \draw[ln,ar] (s55) -- (EGFRp.west); \draw[dl] (612,113) -- (747,113) -- (757,122) -- (822,122) -- (s55);
\draw[ln] (552,114) -- (d56); \draw[ln] (cF2.south) -- (d56); \draw[ln] (d56) -- (s56) -- (683,123); \draw[ln,ar] (683,123) .. controls (720,123) and (750,108) .. (792,96.5);
\draw[ln] (cF2.east |- s57) -- (s57); \draw[ln,ar] (s57) -- (698.5,69); \draw[ln] (ADRBK1t.north) -- (s57);
\draw[ln] (610,113) -- (635,182) -- (d58) -- (s58); \draw[ln,ar] (s58) -- (883,107); \draw[ln] (GRK6.west) -- (s58);
\draw[ln] (608,114) -- (625,193) -- (d59) -- (o59); \draw[ln,ar] (o59) -- (952,124); \draw[ln] (GRK4.west) -- (o59);
\draw[ln] (ARRB2.east) -- (d62); \draw[ln] (ARRB1d.east) -- (d62) -- (s62); \draw[ln,ar] (s62) -- (cAB2.west |- s62);
\draw[ln] (cAB2.north) -- (s63); \draw[ln,ar] (s63) -- (cAB1.south);
\draw[ln] (ARRB1p.north) -- (s65); \draw[ln,ar] (s65) -- (ARRB1d.south); \draw[dl] (o65) -- (268,365) -- (268,268) -- (452,268) -- (517,114);
\end{pgfonlayer}

% ---------- legend ----------
\draw[draw=legc, double=white, double distance=0.9pt, line width=0.9pt, rounded corners=8pt] (1069,115) rectangle (1193,946);
\node[smol, minimum width=47pt, minimum height=11pt, font=\fontsize{5.2}{6}\selectfont] (Lsm) at (1132,131) {simple molecule};
\Gp[minimum width=46pt, font=\fontsize{5.2}{6}\selectfont]{Lgp}{1132,153}{generic protein}
\Rc[27]{Lrc}{1131}{176}{receptor}
\node[circle, draw=black!50, fill=ionl, minimum size=10pt, inner sep=0pt, font=\fontsize{4}{4}\selectfont] (Lion) at (1132,201) {ion};
\node[cplx, fit={(1114,216) (1152,261)}] (Lcx) {};
\node[font=\bfseries\fontsize{8}{9}\selectfont] at (1133,254) {complex};
\path[draw=black!50, fill=phen, line width=0.4pt] (1115,276) -- (1120,269) -- (1144,269) -- (1149,276) -- (1144,283) -- (1120,283) -- cycle;
\node[lab, font=\fontsize{5.2}{6}\selectfont] at (1132,276) {phenotype};

\Gp[lp]{LA1}{1102,308}{A} \Gp[lp]{LB1}{1161,308}{B} \node[sqn] (Ls1) at (1132,308) {};
\draw[ln] (LA1) -- (Ls1); \draw[ln,ar] (Ls1) -- (LB1); \node[leglab] at (1133,326) {state transition};

\Gp[lp]{LC2}{1133,353}{C} \Gp[lp]{LA2}{1103,383}{A} \Gp[lp]{LB2}{1163,383}{B} \node[sqn] (Ls2) at (1133,383) {};
\draw[ln] (LA2) -- (Ls2); \draw[ln,ar] (Ls2) -- (LB2); \draw[ln] (LC2) -- (Ls2); \node[leglab] at (1133,401) {Catalysis};

\Gp[lp,minimum height=12pt]{LX3}{1133,412}{X} \Mr{LX3}{P} \node[leglab] at (1133,429) {phosphorylation};

\Gp[lp]{LC4}{1133,460}{C} \Gp[lp]{LA4}{1102,491}{A} \Gp[lp]{LB4}{1163,491}{B} \node[sqn] (Ls4) at (1133,491) {}; \node[ocn, minimum size=3.5pt] (Lo4) at (1133,485) {};
\draw[ln] (LA4) -- (Ls4); \draw[ln,ar] (Ls4) -- (LB4); \draw[dl] (LC4) -- (Lo4); \node[leglab] at (1133,508) {unknown catalysis};

\Gp[lp]{LC5}{1133,541}{C} \Gp[lp]{LA5}{1101,569}{A} \Gp[lp]{LB5}{1163,569}{B} \node[sqn] (Ls5) at (1133,569) {};
\draw[ln] (LA5) -- (Ls5); \draw[ln,ar] (Ls5) -- (LB5); \draw[ln] (LC5) -- (Ls5); \draw[ln,line width=0.8pt] (1129,565) -- (1137,565); \node[leglab] at (1133,583) {inhibition};

\Gp[lp]{LC6}{1133,614}{C} \Gp[lp]{LA6}{1101,642}{A} \Gp[lp]{LB6}{1163,642}{B} \node[sqn] (Ls6) at (1133,642) {};
\draw[ln] (LA6) -- (Ls6); \draw[ln,ar] (Ls6) -- (LB6); \draw[dl] (LC6) -- (Ls6); \draw[ln,line width=0.8pt] (1129,638) -- (1137,638); \node[leglab] at (1133,656) {unknown inhibition};

\Gp[lp]{LA7}{1096,693}{A} \Gp[lp]{LB7}{1096,717}{B} \node[dotn] (Ld7) at (1124,707) {}; \node[sqn] (Ls7) at (1136,707) {};
\node[cplx, fit={(1147,682) (1187,725)}] (Lcx7) {};
\Gp[minimum width=33pt,minimum height=13pt]{LA7b}{1167,692}{A} \Gp[minimum width=33pt,minimum height=13pt]{LB7b}{1167,707}{B} \node[lab] at (1167,721) {A\_B};
\draw[ln] (LA7) -- (Ld7); \draw[ln] (LB7) -- (Ld7) -- (Ls7); \draw[ln,ar] (Ls7) -- (Lcx7.west |- Ls7); \node[leglab] at (1127,734) {complex association};

\Gp[lp]{LC8}{1133,763}{C} \Gp[lp]{LA8}{1101,791}{A} \Gp[lp]{LB8}{1163,791}{B} \node[sqn] (Ls8) at (1133,791) {}; \node[ocn] (Lo8) at (1133,784) {};
\draw[ln] (LA8) -- (Ls8); \draw[ln,ar] (Ls8) -- (LB8); \draw[ln] (LC8) -- (Lo8); \node[leglab] at (1133,806) {modulation};

\Gp[lp]{LC9}{1133,840}{C} \Gp[lp]{LA9}{1101,870}{A} \Gp[lp]{LB9}{1163,870}{B} \node[sqn] (Ls9) at (1133,870) {};
\draw[ln] (LA9) -- (Ls9); \draw[ln,ar] (Ls9) -- (LB9); \draw[ln] (LC9) -- (Ls9);
\draw[ln] (1130,860) -- (1136,860); \draw[ln, fill=white] (1130.5,862) -- (1135.5,862) -- (1133,866) -- cycle; \node[leglab] at (1133,885) {trigger};

\Gp[lp]{LC10}{1102,915}{C} \Gp[lp]{LA10}{1163,915}{A} \node[sqn] (Ls10) at (1133,915) {};
\draw[ddl] (LC10) -- (Ls10); \draw[ddl,ar] (Ls10) -- (LA10); \node[leglab] at (1133,933) {transcription};
\end{tikzpicture}
\end{document}
